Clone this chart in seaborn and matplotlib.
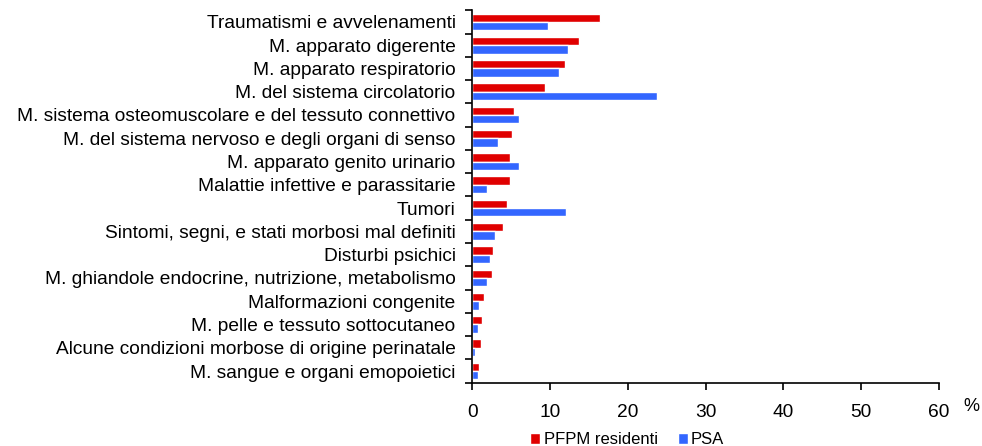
import matplotlib
matplotlib.use("Agg")
import matplotlib.pyplot as plt
import seaborn as sns
import pandas as pd
import numpy as np

# Cause di ricovero (% sul totale)
categories = [
    "Traumatismi e avvelenamenti",
    "M. apparato digerente",
    "M. apparato respiratorio",
    "M. del sistema circolatorio",
    "M. sistema osteomuscolare e del tessuto connettivo",
    "M. del sistema nervoso e degli organi di senso",
    "M. apparato genito urinario",
    "Malattie infettive e parassitarie",
    "Tumori",
    "Sintomi, segni, e stati morbosi mal definiti",
    "Disturbi psichici",
    "M. ghiandole endocrine, nutrizione, metabolismo",
    "Malformazioni congenite",
    "M. pelle e tessuto sottocutaneo",
    "Alcune condizioni morbose di origine perinatale",
    "M. sangue e organi emopoietici",
]
pfpm = [16.4, 13.7, 11.9, 9.3, 5.4, 5.1, 4.8, 4.8, 4.5, 3.9, 2.7, 2.5, 1.5, 1.3, 1.1, 0.9]
psa = [9.7, 12.3, 11.1, 23.8, 6.0, 3.3, 6.0, 1.9, 12.1, 2.9, 2.3, 1.9, 0.9, 0.7, 0.35, 0.7]
series = ["PFPM residenti", "PSA"]

df = pd.DataFrame({
    "Causa": categories * 2,
    "Valore": pfpm + psa,
    "Gruppo": [series[0]] * len(pfpm) + [series[1]] * len(psa),
})

sns.set_style("white")
plt.rcParams["font.family"] = ["Liberation Sans", "DejaVu Sans"]
plt.rcParams["text.color"] = "black"
plt.rcParams["xtick.color"] = "black"
plt.rcParams["ytick.color"] = "black"

fig, ax = plt.subplots(figsize=(9.82, 4.46), dpi=100)
fig.subplots_adjust(left=0.481, right=0.956, top=0.977, bottom=0.142)

sns.barplot(data=df, y="Causa", x="Valore", hue="Gruppo", orient="h",
            palette=["#e00000", "#3366ff"], width=0.72, saturation=1,
            ax=ax, legend=True)

ax.set_xlim(0, 60)
ax.set_ylim(len(categories) - 0.5, -0.5)
ax.set_xticks(range(0, 61, 10))
ax.set_xlabel("")
ax.set_ylabel("")

# tacche sull'asse y tra le categorie
ax.set_yticks(np.arange(-0.5, len(categories), 1), minor=True)
ax.tick_params(axis="y", which="major", length=0, pad=12, labelsize=13.8)
ax.tick_params(axis="y", which="minor", length=5, width=1.2, direction="out", left=True)
ax.tick_params(axis="x", length=5, width=1.2, direction="out", bottom=True, labelsize=13.8, pad=10)

for side in ["top", "right"]:
    ax.spines[side].set_visible(False)
for side in ["left", "bottom"]:
    ax.spines[side].set_color("black")
    ax.spines[side].set_linewidth(1.2)

ax.text(1.07, -0.065, "%", transform=ax.transAxes, fontsize=13, ha="center", va="center")

ax.legend(loc="upper center", bbox_to_anchor=(0.332, -0.115), ncol=2, frameon=False,
          fontsize=12, handlelength=0.6, handleheight=0.6, handletextpad=0.2,
          columnspacing=1.2, borderaxespad=0)

fig.savefig("out.png", dpi=100)
